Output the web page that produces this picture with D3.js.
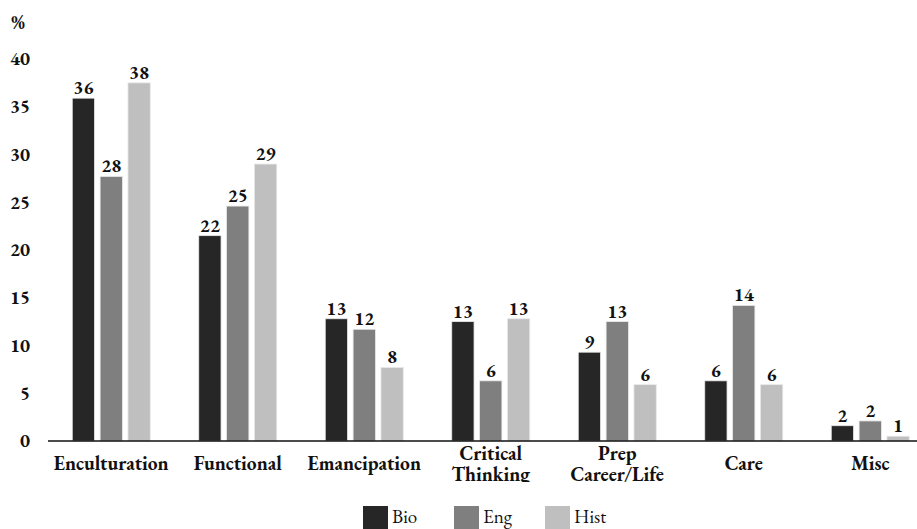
<!DOCTYPE html>
<html lang="en">
<head>
<meta charset="UTF-8">
<title>Purposes chart</title>
<script src="https://d3js.org/d3.v7.min.js"></script>
<style>
    html, body { margin: 0; background: #fff; }
    svg text { font-variant-numeric: lining-nums; font-feature-settings: "lnum" 1; }
</style>
</head>
<body>
<div id="chart"></div>
<script>
    var categories = ["Enculturation", "Functional", "Emancipation", "Critical\nThinking", "Prep\nCareer/Life", "Care", "Misc"];
    var series = ["Bio", "Eng", "Hist"];
    var bio = [35.9, 21.5, 12.8, 12.5, 9.3, 6.3, 1.6];
    var eng = [27.7, 24.6, 11.7, 6.3, 12.5, 14.2, 2.1];
    var hist = [37.5, 29.0, 7.7, 12.8, 5.9, 5.9, 0.5];
    var yTicks = [0, 5, 10, 15, 20, 25, 30, 35, 40];
    var colours = ["#262626", "#7f7f7f", "#bfbfbf"];

    var width = 917, height = 529;
    var values = [bio, eng, hist];
    var serif = "'EB Garamond', 'Liberation Serif', serif";

    var svg = d3.select("#chart").append("svg")
        .attr("width", width)
        .attr("height", height)
        .style("font-family", serif);

    var x = d3.scaleBand()
        .domain(categories)
        .range([48, 933.5])
        .paddingInner(0)
        .paddingOuter(0);

    var xSub = d3.scaleBand()
        .domain(series)
        .range([0, 78])
        .paddingInner(0.2);

    var y = d3.scaleLinear()
        .domain([0, 40])
        .range([441, 59]);

    // y tick labels
    svg.append("g").selectAll("text")
        .data(yTicks)
        .enter().append("text")
        .attr("x", 30)
        .attr("y", function (d) { return y(d); })
        .attr("dy", "0.33em")
        .attr("text-anchor", "end")
        .attr("fill", "#111")
        .style("font-size", "19px")
        .style("font-weight", "bold")
        .text(function (d) { return d; });

    svg.append("text")
        .attr("x", 11)
        .attr("y", 29)
        .attr("fill", "#111")
        .style("font-size", "20px")
        .style("font-weight", "bold")
        .text("%");

    // bars
    var groups = svg.append("g").selectAll("g")
        .data(categories)
        .enter().append("g")
        .attr("transform", function (d) {
            return "translate(" + (x(d) + x.bandwidth() / 2 - 39) + ",0)";
        });

    series.forEach(function (s, si) {
        groups.append("rect")
            .attr("x", xSub(s))
            .attr("width", xSub.bandwidth())
            .attr("y", function (d, i) { return y(values[si][i]); })
            .attr("height", function (d, i) { return y(0) - y(values[si][i]); })
            .attr("fill", colours[si])
            .attr("stroke", "#e8e8e8")
            .attr("stroke-width", 0.8);

        groups.append("text")
            .attr("x", xSub(s) + xSub.bandwidth() / 2)
            .attr("y", function (d, i) { return y(values[si][i]) - 4; })
            .attr("text-anchor", "middle")
            .attr("fill", "#111")
            .style("font-size", "19px")
            .style("font-weight", "bold")
            .text(function (d, i) { return Math.round(values[si][i]); });
    });

    // x axis line
    svg.append("line")
        .attr("x1", 48)
        .attr("x2", width)
        .attr("y1", y(0))
        .attr("y2", y(0))
        .attr("stroke", "#111")
        .attr("stroke-width", 1.5);

    // category labels (clipped at bottom like the source image)
    svg.append("clipPath")
        .attr("id", "labelclip")
        .append("rect")
        .attr("x", 0).attr("y", 442)
        .attr("width", width).attr("height", 40);

    var labels = svg.append("g")
        .attr("clip-path", "url(#labelclip)")
        .selectAll("text")
        .data(categories)
        .enter().append("text")
        .attr("text-anchor", "middle")
        .attr("fill", "#111")
        .attr("x", function (d) { return x(d) + x.bandwidth() / 2; })
        .attr("y", function (d) { return d.indexOf("\n") >= 0 ? 460 : 470; })
        .style("font-size", "19.5px")
        .style("font-weight", "bold");

    labels.each(function (d) {
        var lines = d.split("\n");
        var t = d3.select(this);
        lines.forEach(function (l, i) {
            t.append("tspan")
                .attr("x", x(d) + x.bandwidth() / 2)
                .attr("dy", i === 0 ? 0 : 21)
                .text(l);
        });
    });

    // legend
    var legendX = [363, 454, 545];
    var legend = svg.append("g").selectAll("g")
        .data(series)
        .enter().append("g")
        .attr("transform", function (d, i) { return "translate(" + legendX[i] + ",506)"; });

    legend.append("rect")
        .attr("width", 25)
        .attr("height", 25)
        .attr("fill", function (d, i) { return colours[i]; });

    legend.append("text")
        .attr("x", 29)
        .attr("y", 17)
        .attr("fill", "#111")
        .style("font-size", "19px")
        .text(function (d) { return d; });
</script>
</body>
</html>
